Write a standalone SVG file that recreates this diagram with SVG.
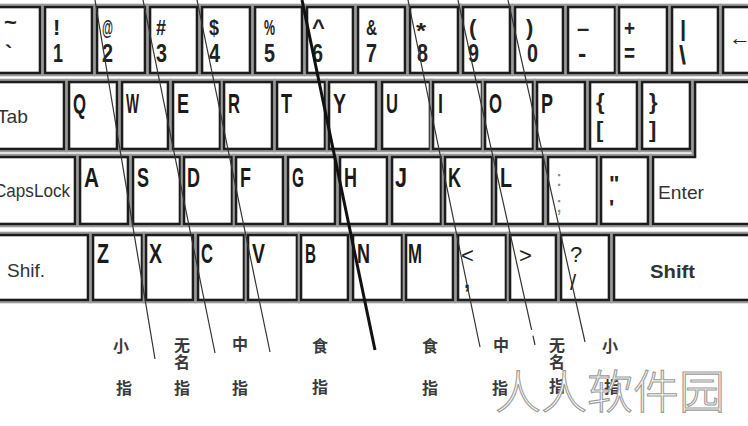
<svg xmlns="http://www.w3.org/2000/svg" width="748" height="426" viewBox="0 0 748 426">
<defs>
<filter id="halo" x="-10%" y="-10%" width="120%" height="120%">
<feMorphology in="SourceAlpha" operator="dilate" radius="1.5" result="d"/>
<feFlood flood-color="#9a9a9a"/>
<feComposite in2="d" operator="in"/>
<feMerge><feMergeNode/><feMergeNode in="SourceGraphic"/></feMerge>
</filter>
<style>
.k{fill:#fff;stroke:#1a1a1a;stroke-width:2.6;filter:url(#halo)}
.s{font-family:"Liberation Sans",Arial,sans-serif;font-size:22px;font-weight:bold;fill:#222}
.d{font-family:"Liberation Sans",Arial,sans-serif;font-size:25px;font-weight:bold;fill:#222}
.L{font-family:"Liberation Sans",Arial,sans-serif;font-size:28px;font-weight:bold;fill:#1a1a1a}
.w{font-family:"Liberation Sans",Arial,sans-serif;font-size:19px;fill:#333}
.c{font-family:"Noto Sans CJK SC",sans-serif;font-size:16px;font-weight:bold;fill:#3a3a3a;text-anchor:middle}
.ln{stroke:#333;stroke-width:1.2;fill:none}
.wm{font-family:"Noto Sans CJK SC",sans-serif;font-size:46px;fill:#fff;stroke:#9a9a9a;stroke-width:1.1;font-weight:300}
</style>
</defs>
<rect width="748" height="426" fill="#fff"/>

<!-- Row 1 -->
<g id="key-grave"><rect class="k" x="-10" y="7" width="50" height="66"/><text class="s" x="4" y="30">~</text><text class="s" x="5" y="61">`</text></g>
<g id="key-1"><rect class="k" x="45" y="7" width="47" height="66"/><text class="s" x="53" y="35">!</text><text class="d" x="53" y="62" textLength="10" lengthAdjust="spacingAndGlyphs">1</text></g>
<g id="key-2"><rect class="k" x="97" y="7" width="48" height="66"/><text class="s" x="102" y="35" textLength="11" lengthAdjust="spacingAndGlyphs">@</text><text class="d" x="102" y="62" textLength="11" lengthAdjust="spacingAndGlyphs">2</text></g>
<g id="key-3"><rect class="k" x="150" y="7" width="47" height="66"/><text class="s" x="156" y="35" textLength="10" lengthAdjust="spacingAndGlyphs">#</text><text class="d" x="156" y="62" textLength="11" lengthAdjust="spacingAndGlyphs">3</text></g>
<g id="key-4"><rect class="k" x="202" y="7" width="48" height="66"/><text class="s" x="209" y="35" textLength="10" lengthAdjust="spacingAndGlyphs">$</text><text class="d" x="209" y="62" textLength="11" lengthAdjust="spacingAndGlyphs">4</text></g>
<g id="key-5"><rect class="k" x="255" y="7" width="47" height="66"/><text class="s" x="264" y="35" textLength="11" lengthAdjust="spacingAndGlyphs">%</text><text class="d" x="264" y="62" textLength="11" lengthAdjust="spacingAndGlyphs">5</text></g>
<g id="key-6"><rect class="k" x="307" y="7" width="46" height="66"/><text class="s" x="312" y="35">^</text><text class="d" x="312" y="62" textLength="11" lengthAdjust="spacingAndGlyphs">6</text></g>
<g id="key-7"><rect class="k" x="358" y="7" width="47" height="66"/><text class="s" x="366" y="35" textLength="11" lengthAdjust="spacingAndGlyphs">&amp;</text><text class="d" x="366" y="62" textLength="11" lengthAdjust="spacingAndGlyphs">7</text></g>
<g id="key-8"><rect class="k" x="410" y="7" width="48" height="66"/><text class="s" x="416" y="38" textLength="10" lengthAdjust="spacingAndGlyphs">*</text><text class="d" x="417" y="62" textLength="11" lengthAdjust="spacingAndGlyphs">8</text></g>
<g id="key-9"><rect class="k" x="463" y="7" width="47" height="66"/><text class="s" x="469" y="35">(</text><text class="d" x="468" y="62" textLength="11" lengthAdjust="spacingAndGlyphs">9</text></g>
<g id="key-0"><rect class="k" x="515" y="7" width="48" height="66"/><text class="s" x="526" y="35">)</text><text class="d" x="527" y="62" textLength="11" lengthAdjust="spacingAndGlyphs">0</text></g>
<g id="key-minus"><rect class="k" x="568" y="7" width="47" height="66"/><text class="s" x="577" y="36">–</text><text class="d" x="578" y="62">-</text></g>
<g id="key-equal"><rect class="k" x="619" y="7" width="48" height="66"/><text class="s" x="624" y="36" textLength="11" lengthAdjust="spacingAndGlyphs">+</text><text class="d" x="624" y="62" textLength="11" lengthAdjust="spacingAndGlyphs">=</text></g>
<g id="key-backslash"><rect class="k" x="672" y="7" width="46" height="66"/><text class="s" x="680" y="36">|</text><text class="d" x="679" y="64">\</text></g>
<g id="key-backspace"><rect class="k" x="723" y="7" width="50" height="66"/><text class="s" x="729" y="45">←</text></g>

<!-- Row 2 -->
<g id="key-tab"><rect class="k" x="-10" y="82" width="74" height="67"/><text class="w" x="-3" y="123" textLength="31" lengthAdjust="spacingAndGlyphs">Tab</text></g>
<g id="key-q"><rect class="k" x="69" y="82" width="48" height="67"/><text class="L" x="73" y="113" textLength="13" lengthAdjust="spacingAndGlyphs">Q</text></g>
<g id="key-w"><rect class="k" x="122" y="82" width="46" height="67"/><text class="L" x="126" y="113" textLength="13" lengthAdjust="spacingAndGlyphs">W</text></g>
<g id="key-e"><rect class="k" x="173" y="82" width="47" height="67"/><text class="L" x="177" y="113" textLength="12" lengthAdjust="spacingAndGlyphs">E</text></g>
<g id="key-r"><rect class="k" x="224" y="82" width="48" height="67"/><text class="L" x="228" y="113" textLength="12" lengthAdjust="spacingAndGlyphs">R</text></g>
<g id="key-t"><rect class="k" x="277" y="82" width="48" height="67"/><text class="L" x="281" y="113" textLength="11" lengthAdjust="spacingAndGlyphs">T</text></g>
<g id="key-y"><rect class="k" x="329" y="82" width="47" height="67"/><text class="L" x="333" y="113" textLength="13" lengthAdjust="spacingAndGlyphs">Y</text></g>
<g id="key-u"><rect class="k" x="382" y="82" width="48" height="67"/><text class="L" x="386" y="113" textLength="12" lengthAdjust="spacingAndGlyphs">U</text></g>
<g id="key-i"><rect class="k" x="433" y="82" width="49" height="67"/><text class="L" x="438" y="113" textLength="5" lengthAdjust="spacingAndGlyphs">I</text></g>
<g id="key-o"><rect class="k" x="485" y="82" width="48" height="67"/><text class="L" x="489" y="113" textLength="13" lengthAdjust="spacingAndGlyphs">O</text></g>
<g id="key-p"><rect class="k" x="537" y="82" width="48" height="67"/><text class="L" x="541" y="113" textLength="12" lengthAdjust="spacingAndGlyphs">P</text></g>
<g id="key-lbracket"><rect class="k" x="590" y="82" width="47" height="67"/><text class="s" x="596" y="109">{</text><text class="s" x="596" y="137">[</text></g>
<g id="key-rbracket"><rect class="k" x="642" y="82" width="48" height="67"/><text class="s" x="649" y="109">}</text><text class="s" x="649" y="137">]</text></g>

<!-- Enter (spans rows 2-3) -->
<g id="key-enter"><path class="k" d="M695,82 H775 V224 H653 V157 H695 Z"/><text class="w" x="658" y="199" textLength="46" lengthAdjust="spacingAndGlyphs">Enter</text></g>

<!-- Row 3 -->
<g id="key-capslock"><rect class="k" x="-10" y="157" width="85" height="67"/><text class="w" x="-6" y="197" textLength="76" lengthAdjust="spacingAndGlyphs">CapsLock</text></g>
<g id="key-a"><rect class="k" x="80" y="157" width="48" height="67"/><text class="L" x="84" y="187" textLength="15" lengthAdjust="spacingAndGlyphs">A</text></g>
<g id="key-s"><rect class="k" x="133" y="157" width="47" height="67"/><text class="L" x="137" y="187" textLength="12" lengthAdjust="spacingAndGlyphs">S</text></g>
<g id="key-d"><rect class="k" x="184" y="157" width="48" height="67"/><text class="L" x="187" y="187" textLength="13" lengthAdjust="spacingAndGlyphs">D</text></g>
<g id="key-f"><rect class="k" x="236" y="157" width="47" height="67"/><text class="L" x="240" y="187" textLength="11" lengthAdjust="spacingAndGlyphs">F</text></g>
<g id="key-g"><rect class="k" x="288" y="157" width="47" height="67"/><text class="L" x="292" y="187" textLength="12" lengthAdjust="spacingAndGlyphs">G</text></g>
<g id="key-h"><rect class="k" x="340" y="157" width="47" height="67"/><text class="L" x="344" y="187" textLength="13" lengthAdjust="spacingAndGlyphs">H</text></g>
<g id="key-j"><rect class="k" x="392" y="157" width="49" height="67"/><text class="L" x="395" y="187" textLength="12" lengthAdjust="spacingAndGlyphs">J</text></g>
<g id="key-k"><rect class="k" x="445" y="157" width="47" height="67"/><text class="L" x="448" y="187" textLength="13" lengthAdjust="spacingAndGlyphs">K</text></g>
<g id="key-l"><rect class="k" x="496" y="157" width="47" height="67"/><text class="L" x="500" y="187" textLength="12" lengthAdjust="spacingAndGlyphs">L</text></g>
<g id="key-semicolon"><rect class="k" x="548" y="157" width="49" height="67"/><text class="s" x="556" y="186" style="fill:#888;font-weight:normal">:</text><text class="s" x="556" y="212" style="fill:#888;font-weight:normal">;</text></g>
<g id="key-quote"><rect class="k" x="601" y="157" width="47" height="67"/><text class="s" x="609" y="191">"</text><text class="s" x="609" y="215">'</text></g>

<!-- Row 4 -->
<g id="key-lshift"><rect class="k" x="-10" y="235" width="98" height="65"/><text class="w" x="7" y="277">Shif.</text></g>
<g id="key-z"><rect class="k" x="93" y="235" width="49" height="65"/><text class="L" x="97" y="263" textLength="12" lengthAdjust="spacingAndGlyphs">Z</text></g>
<g id="key-x"><rect class="k" x="146" y="235" width="47" height="65"/><text class="L" x="149" y="263" textLength="13" lengthAdjust="spacingAndGlyphs">X</text></g>
<g id="key-c"><rect class="k" x="198" y="235" width="46" height="65"/><text class="L" x="201" y="263" textLength="12" lengthAdjust="spacingAndGlyphs">C</text></g>
<g id="key-v"><rect class="k" x="248" y="235" width="49" height="65"/><text class="L" x="252" y="263" textLength="13" lengthAdjust="spacingAndGlyphs">V</text></g>
<g id="key-b"><rect class="k" x="301" y="235" width="47" height="65"/><text class="L" x="305" y="263" textLength="11" lengthAdjust="spacingAndGlyphs">B</text></g>
<g id="key-n"><rect class="k" x="353" y="235" width="49" height="65"/><text class="L" x="357" y="263" textLength="13" lengthAdjust="spacingAndGlyphs">N</text></g>
<g id="key-m"><rect class="k" x="406" y="235" width="47" height="65"/><text class="L" x="408" y="263" textLength="14" lengthAdjust="spacingAndGlyphs">M</text></g>
<g id="key-comma"><rect class="k" x="458" y="235" width="48" height="65"/><text class="s" x="461" y="263" style="font-weight:normal">&lt;</text><text class="s" x="464" y="288">,</text></g>
<g id="key-period"><rect class="k" x="510" y="235" width="46" height="65"/><text class="s" x="519" y="263" style="font-weight:normal">&gt;</text></g>
<g id="key-slash"><rect class="k" x="561" y="235" width="48" height="65"/><text class="s" x="570" y="262" style="font-weight:normal">?</text><text class="s" x="570" y="290" style="font-weight:normal">/</text></g>
<g id="key-rshift"><rect class="k" x="614" y="235" width="160" height="65"/><text class="w" x="650" y="278" font-weight="bold" textLength="45" lengthAdjust="spacingAndGlyphs">Shift</text></g>

<!-- Finger boundary lines -->
<g id="connectors">
<line class="ln" x1="95" y1="0" x2="155" y2="359"/>
<line class="ln" x1="143" y1="0" x2="215" y2="353"/>
<line class="ln" x1="197" y1="0" x2="270" y2="352"/>
<line x1="302" y1="0" x2="375" y2="350" stroke="#111" stroke-width="3"/>
<line class="ln" x1="408" y1="0" x2="480" y2="347"/>
<line class="ln" x1="458" y1="0" x2="535" y2="345" stroke-dasharray="338 6 30"/>
<line class="ln" x1="508" y1="0" x2="585" y2="342"/>
</g>

<!-- Finger labels -->
<g id="label-left-little"><text class="c" x="121" y="352">小</text><text class="c" x="124" y="394">指</text></g>
<g id="label-left-ring"><text class="c" x="182" y="351">无</text><text class="c" x="182" y="368">名</text><text class="c" x="182" y="394">指</text></g>
<g id="label-left-middle"><text class="c" x="240" y="350">中</text><text class="c" x="240" y="394">指</text></g>
<g id="label-left-index"><text class="c" x="320" y="352">食</text><text class="c" x="320" y="393">指</text></g>
<g id="label-right-index"><text class="c" x="430" y="352">食</text><text class="c" x="430" y="394">指</text></g>
<g id="label-right-middle"><text class="c" x="501" y="351">中</text><text class="c" x="500" y="394">指</text></g>
<g id="label-right-ring"><text class="c" x="557" y="351">无</text><text class="c" x="557" y="368">名</text><text class="c" x="557" y="392">指</text></g>
<g id="label-right-little"><text class="c" x="610" y="352">小</text><text class="c" x="612" y="393">指</text></g>

<text class="wm" x="495" y="408">人人软件园</text>
</svg>
